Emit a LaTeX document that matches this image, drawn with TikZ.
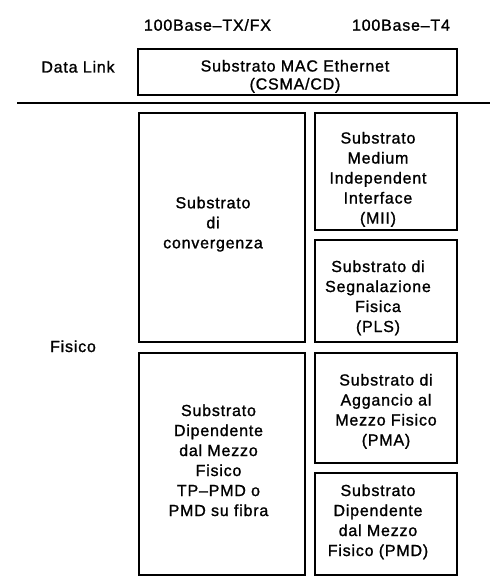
\documentclass[tikz,border=0pt]{standalone}
\usepackage{fontspec}
\setmainfont[LetterSpace=5,FakeBold=1.2]{Liberation Sans}
\begin{document}
\begin{tikzpicture}[x=1pt,y=-1pt,
  box/.style={draw=black,line width=2pt},
  lbl/.style={inner sep=0pt,anchor=base,align=center,font=\fontsize{16}{20}\selectfont}]
\useasboundingbox[fill=white] (0,0) rectangle (502,588);
% headers
\node[lbl] (h1) at (207.5,30.7) {100Base–TX/FX};
\node[lbl] (h2) at (401,30.7) {100Base–T4};
\node[lbl] (dl) at (78,72.5) {Data Link};
\node[lbl] (fis) at (73,352) {Fisico};
% MAC box
\draw[box] (138,49) rectangle (457,95);
\node[lbl,font=\fontsize{16}{18}\selectfont] (mac) at (295,89.5) {Substrato MAC Ethernet\\(CSMA/CD)};
% separator
\coordinate (sepL) at (17,103);
\coordinate (sepR) at (490,103);
\draw[line width=2.4pt] (sepL) -- (sepR);
% boxes
\draw[box] (139,113) rectangle (305,342);
\draw[box] (315,113) rectangle (457,230);
\draw[box] (315,240) rectangle (457,342);
\draw[box] (139,353) rectangle (305,575);
\draw[box] (315,353) rectangle (457,463);
\draw[box] (315,473) rectangle (457,575);
% texts
\node[lbl] (conv) at (213,248.3) {Substrato\\di\\convergenza};
\node[lbl] (mii) at (378,223.5) {Substrato\\Medium\\Independent\\Interface\\(MII)};
\node[lbl] (pls) at (378,332) {Substrato di\\Segnalazione\\Fisica\\(PLS)};
\node[lbl] (tpmd) at (218.5,516) {Substrato\\Dipendente\\dal Mezzo\\Fisico\\TP–PMD o\\PMD su fibra};
\node[lbl] (pma) at (386,445.5) {Substrato di\\Aggancio al\\Mezzo Fisico\\(PMA)};
\node[lbl] (pmd) at (378,556) {Substrato\\Dipendente\\dal Mezzo\\Fisico (PMD)};
\end{tikzpicture}
\end{document}
